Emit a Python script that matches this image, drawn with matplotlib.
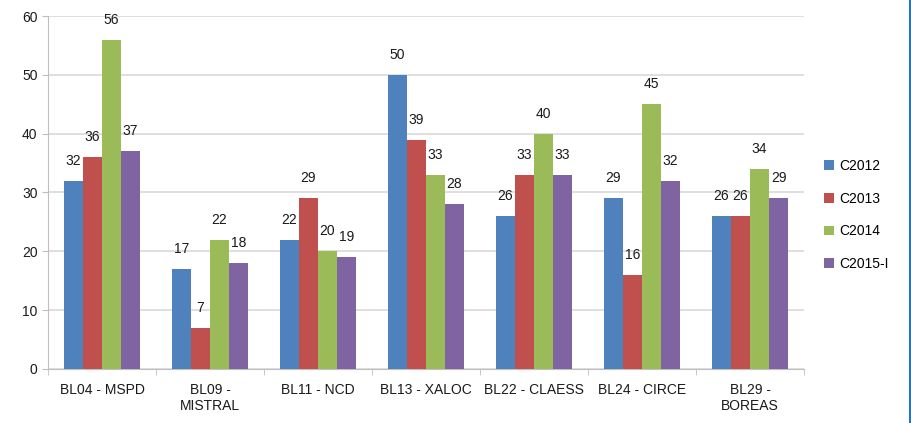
import matplotlib.pyplot as plt
from matplotlib.lines import Line2D
import numpy as np

categories = ["BL04 - MSPD", "BL09 -\nMISTRAL", "BL11 - NCD", "BL13 - XALOC",
              "BL22 - CLAESS", "BL24 - CIRCE", "BL29 -\nBOREAS"]
series_names = ["C2012", "C2013", "C2014", "C2015-I"]
c2012 = [32, 17, 22, 50, 26, 29, 26]
c2013 = [36, 7, 29, 39, 33, 16, 26]
c2014 = [56, 22, 20, 33, 40, 45, 34]
c2015 = [37, 18, 19, 28, 33, 32, 29]
colors = ["#4F81BD", "#C0504D", "#9BBB59", "#8064A2"]


def main():
    plt.rcParams['font.family'] = ['Liberation Sans', 'DejaVu Sans']
    fig = plt.figure(figsize=(9.12, 4.23), dpi=100)
    ax = fig.add_axes([0.0526, 0.128, 0.829, 0.834])

    x = np.arange(len(categories))
    w = 0.176
    for i, (vals, name) in enumerate(zip([c2012, c2013, c2014, c2015], series_names)):
        pos = x + (i - 1.5) * w
        bars = ax.bar(pos, vals, w, color=colors[i], label=name, zorder=3)
        for b, v in zip(bars, vals):
            ax.text(b.get_x() + b.get_width() / 2, v + 2.2, str(v), ha='center',
                    va='bottom', fontsize=10, color='#1a1a1a')

    ax.set_xlim(-0.5, len(categories) - 0.5)
    ax.set_ylim(0, 60)
    ax.set_yticks(range(0, 61, 10))
    ax.yaxis.grid(True, color='#d9d9d9', linewidth=1.2, zorder=0)
    ax.set_axisbelow(True)

    ax.set_xticks(x)
    ax.set_xticklabels(categories, fontsize=10, color='#1a1a1a')
    ax.set_xticks(np.arange(-0.5, len(categories)), minor=True)
    ax.tick_params(axis='x', which='major', length=0, pad=10)
    ax.tick_params(axis='x', which='minor', length=4, color='#bfbfbf')
    ax.tick_params(axis='y', length=4, color='#bfbfbf', labelsize=10, labelcolor='#1a1a1a')

    for s in ['top', 'right']:
        ax.spines[s].set_visible(False)
    ax.spines['left'].set_color('#bfbfbf')
    ax.spines['bottom'].set_color('#bfbfbf')

    ax.legend(loc='center left', bbox_to_anchor=(1.01, 0.436), frameon=False,
              fontsize=10, handlelength=0.7, handleheight=0.7, labelspacing=1.35,
              handletextpad=0.4)

    fig.add_artist(Line2D([910 / 912, 910 / 912], [0, 1], color='#1f78c1', linewidth=1.5))

    fig.savefig("out.png", dpi=100)


if __name__ == "__main__":
    main()
